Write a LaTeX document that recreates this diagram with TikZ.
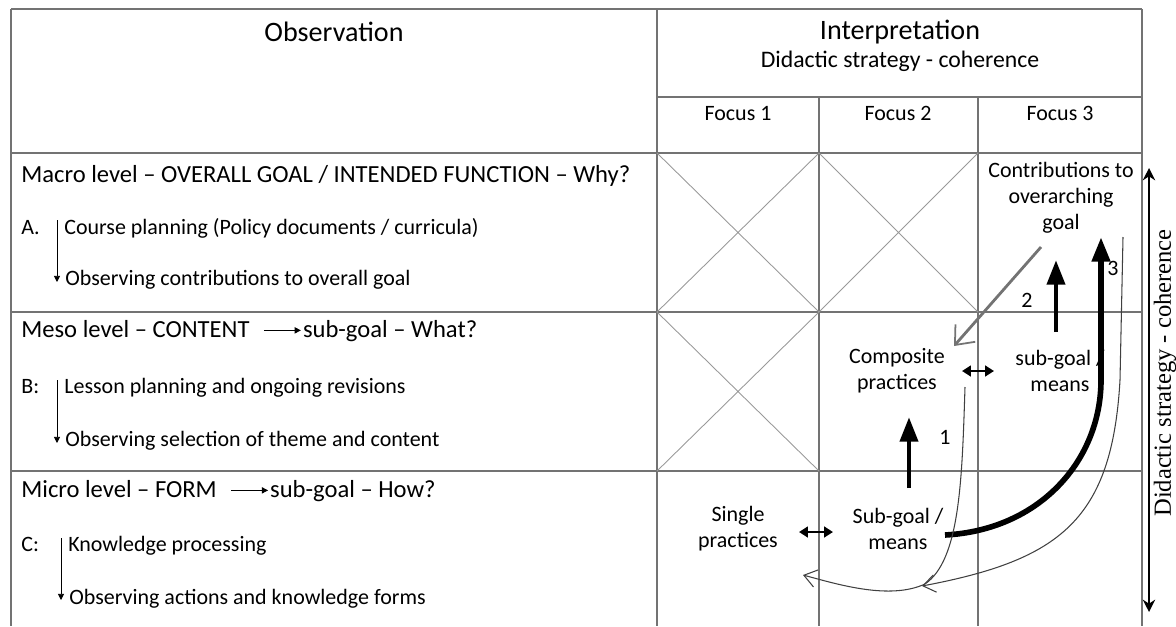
\documentclass[tikz,border=0pt]{standalone}
\usepackage{fontspec}
\setmainfont{Carlito}
\newfontfamily\sidefont{Liberation Serif}
\usetikzlibrary{arrows.meta,positioning}
\tikzstyle{tableline}=[draw=black!55, line width=0.6pt]
\tikzstyle{crossline}=[draw=black!40, line width=0.5pt]
\tikzstyle{headtext}=[inner sep=0pt, font=\fontsize{16}{19}\selectfont]
\tikzstyle{subhead}=[inner sep=0pt, text height=0.7em, text depth=0.2em, font=\fontsize{12.5}{15}\selectfont]
\tikzstyle{levelhead}=[anchor=west, inner sep=0pt, text height=0.7em, text depth=0.2em, font=\fontsize{14}{17}\selectfont]
\tikzstyle{subline}=[anchor=west, inner sep=0pt, text height=0.7em, text depth=0.2em, font=\fontsize{12.5}{15}\selectfont]
\tikzstyle{celltext}=[align=center, inner sep=0pt, font=\fontsize{12.5}{14.7}\selectfont]
\tikzstyle{steparrow}=[draw=black, line width=0.5pt, -{Triangle[length=3.5pt,width=3.5pt]}]
\tikzstyle{bigarrow}=[draw=black, line width=2.8pt, -{Triangle[length=14pt,width=10pt]}]
\tikzstyle{thinflow}=[draw=black!75, line width=0.6pt, -{Straight Barb[length=7pt,width=10pt]}]
\tikzstyle{linkarrow}=[draw=black, line width=1.3pt, {Triangle[length=5pt,width=6pt]}-{Triangle[length=5pt,width=6pt]}]
\tikzstyle{grayarrow}=[draw=black!55, line width=1.6pt, -{Straight Barb[length=9pt,width=15pt,line width=1pt]}]
\begin{document}
\begin{tikzpicture}[x=0.02cm, y=-0.02cm]
	\useasboundingbox (0,0) rectangle (1176,626);
	\begin{scope}
		\draw[tableline] (11,9) -- (1142,9);
		\draw[tableline] (657,97) -- (1142,97);
		\draw[tableline] (11,153) -- (1142,153);
		\draw[tableline] (11,312) -- (1142,312);
		\draw[tableline] (11,471) -- (1142,471);
		\draw[tableline] (11,9) -- (11,626);
		\draw[tableline] (657,9) -- (657,626);
		\draw[tableline] (819,97) -- (819,626);
		\draw[tableline] (978,97) -- (978,626);
		\draw[tableline] (1142,9) -- (1142,626);
		\draw[crossline] (657,153) -- (819,312) (657,312) -- (819,153);
		\draw[crossline] (819,153) -- (978,312) (819,312) -- (978,153);
		\draw[crossline] (657,312) -- (819,471) (657,471) -- (819,312);
	\end{scope}
	\begin{scope}
		\node[headtext] (obs) at (334,32) {Observation};
		\node[headtext] (interp) at (900,32) {Interpretation};
		\node[subhead, font=\fontsize{13.5}{16}\selectfont] (strategy) at (900,63) {Didactic strategy - coherence};
		\node[subhead] (focus1) at (738,116) {Focus 1};
		\node[subhead] (focus2) at (898,116) {Focus 2};
		\node[subhead] (focus3) at (1060,116) {Focus 3};

		\node[levelhead] (macro) at (21,178) {Macro level -- OVERALL GOAL / INTENDED FUNCTION -- Why?};
		\node[subline] (labA) at (21,230) {A.};
		\node[subline] (courseA) at (64,230) {Course planning (Policy documents / curricula)};
		\node[subline] (obsA) at (65,281) {Observing contributions to overall goal};

		\node[levelhead] (meso) at (21,333) {Meso level -- CONTENT};
		\node[levelhead, right=30pt of meso] (mesogoal) {sub-goal -- What?};
		\node[subline] (labB) at (21,389) {B:};
		\node[subline] (lessonB) at (64,389) {Lesson planning and ongoing revisions};
		\node[subline] (obsB) at (65,442) {Observing selection of theme and content};

		\node[levelhead] (micro) at (21,493) {Micro level -- FORM};
		\node[levelhead, right=30pt of micro] (microgoal) {sub-goal -- How?};
		\node[subline] (labC) at (21,547) {C:};
		\node[subline] (knowC) at (68,547) {Knowledge processing};
		\node[subline] (obsC) at (69,600) {Observing actions and knowledge forms};

		\node[celltext] (contrib) at (1061,198) {Contributions to\\overarching\\goal};
		\node[celltext] (composite) at (897,371) {Composite\\practices};
		\node[celltext] (submeso) at (1060,371) {sub-goal /\\means};
		\node[celltext] (single) at (738,529) {Single\\practices};
		\node[celltext] (submicro) at (898,529) {Sub-goal /\\means};
		\node (one) at (945,437) {\fontsize{12.5}{15}\selectfont 1};
		\node (two) at (1027,300) {\fontsize{12.5}{15}\selectfont 2};
		\node (three) at (1113,268) {\fontsize{12.5}{15}\selectfont 3};
		\node[rotate=90, inner sep=0pt] (side) at (1165,373) {\sidefont\fontsize{14}{17}\selectfont Didactic strategy - coherence};

		\coordinate (a1) at (57,220);
		\coordinate (a2) at (57,282);
		\coordinate (b1) at (57,380);
		\coordinate (b2) at (57,443);
		\coordinate (c1) at (61,538);
		\coordinate (c2) at (61,600);
		\coordinate (l1a) at (962,371);
		\coordinate (l1b) at (994,371);
		\coordinate (l2a) at (799,532);
		\coordinate (l2b) at (833,532);
		\coordinate (up1a) at (909,488);
		\coordinate (up1b) at (909,417);
		\coordinate (up2a) at (1056,332);
		\coordinate (up2b) at (1056,260);
		\coordinate (up3a) at (945,535);
		\coordinate (up3b) at (1101,237);
		\coordinate (g1) at (1041,247);
		\coordinate (g2) at (954,346);
		\coordinate (fa) at (965,387);
		\coordinate (fb) at (803,575);
		\coordinate (fc) at (1123,237);
		\coordinate (fd) at (922,586);
		\coordinate (sidetop) at (1149,168);
		\coordinate (sidebot) at (1149,612);
	\end{scope}
	\begin{scope}
		\draw[steparrow] ([xshift=8pt, yshift=1.5pt]meso.east) -- ([xshift=-1pt, yshift=1.5pt]mesogoal.west);
		\draw[steparrow] ([xshift=8pt, yshift=1.5pt]micro.east) -- ([xshift=-1pt, yshift=1.5pt]microgoal.west);
		\draw[steparrow] (a1) -- (a2);
		\draw[steparrow] (b1) -- (b2);
		\draw[steparrow] (c1) -- (c2);
		\draw[linkarrow] (l1a) -- (l1b);
		\draw[linkarrow] (l2a) -- (l2b);
		\draw[grayarrow] (g1) -- (g2);
		\draw[bigarrow] (up1a) -- (up1b);
		\draw[bigarrow] (up2a) -- (up2b);
		\draw[bigarrow, line width=3.2pt] (up3a) .. controls (1040,530) and (1101,460) .. (1101,380) -- (up3b);
		\draw[thinflow] (fa) .. controls (962,480) and (960,560) .. (925,584) .. controls (890,600) and (840,585) .. (fb);
		\draw[thinflow] (fc) -- (1120,380) .. controls (1112,520) and (1060,560) .. (fd);
		\draw[draw=black, line width=1.3pt, {Stealth[length=7pt,width=7pt]}-{Stealth[length=7pt,width=7pt]}] (sidetop) -- (sidebot);
	\end{scope}
\end{tikzpicture}
\end{document}
